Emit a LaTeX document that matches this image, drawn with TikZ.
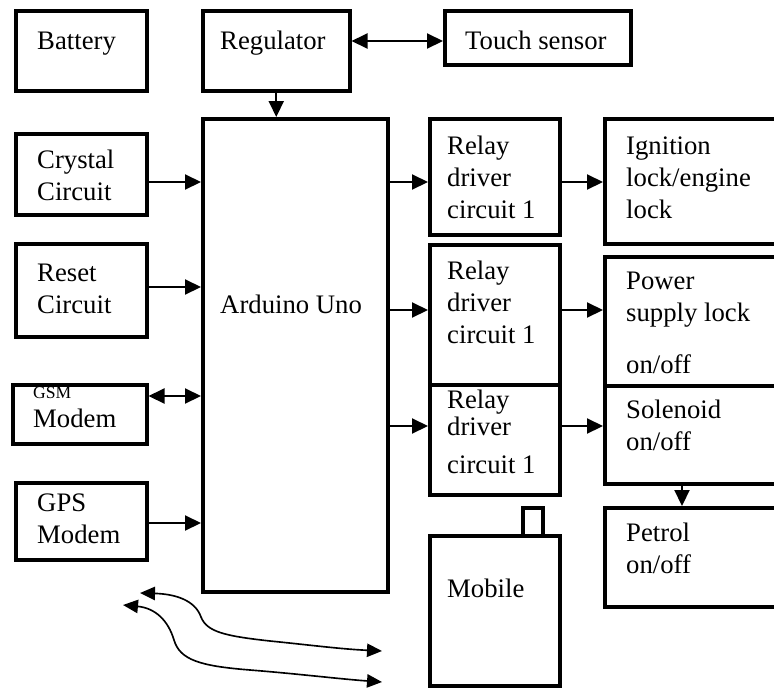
\documentclass[tikz,border=0pt]{standalone}
\usepackage{fontspec}
\setmainfont{Liberation Serif}
\usetikzlibrary{arrows.meta}

\begin{document}
\begin{tikzpicture}[
  x=0.03cm, y=-0.03cm,
  every node/.style={font=\fontsize{22.8}{27}\selectfont},
  box/.style n args={2}{draw, rectangle, line width=3pt, inner sep=0pt,
    anchor=north west, minimum width=#1*0.03cm, minimum height=#2*0.03cm},
  txt/.style={anchor=base west, inner sep=0pt, align=left},
  arr/.style={-{Triangle[length=0.48cm, width=0.45cm]}, line width=1.8pt},
  darr/.style={{Triangle[length=0.48cm, width=0.45cm]}-{Triangle[length=0.48cm, width=0.45cm]},
    line width=1.8pt},
  wave/.style={{Triangle[length=0.45cm, width=0.4cm]}-{Triangle[length=0.45cm, width=0.4cm]},
    line width=1.4pt}
]
  \useasboundingbox (0,0) rectangle (774,691);
  \clip (0,0) rectangle (774,691);

  % Top row
  \node[box={131}{80}] (bat) at (14,9) {};
  \node[txt] (tbat) at (37,49) {Battery};
  \node[box={147}{80}] (reg) at (201,9) {};
  \node[txt] (treg) at (220,49) {Regulator};
  \node[box={186}{54}] (touch) at (443,9) {};
  \node[txt] (ttouch) at (465,49) {Touch sensor};

  % Inputs on the left (text placed at its last baseline)
  \node[box={131}{81}] (crys) at (14,132) {};
  \node[txt] (tcrys) at (37,200) {Crystal\\Circuit};
  \node[box={131}{93}] (reset) at (14,242) {};
  \node[txt] (treset) at (37,313) {Reset\\Circuit};
  \node[box={134}{59}] (gsm) at (11,383) {};
  \node[txt, font=\fontsize{15}{18}\selectfont] (tgsm) at (33,398) {GSM};
  \node[txt] (tmodem) at (33,427) {Modem};
  \node[box={131}{77}] (gps) at (14,481) {};
  \node[txt] (tgps) at (37,543) {GPS\\Modem};

  % Controller
  \node[box={185}{473}] (ard) at (201,117) {};
  \node[txt] (tard) at (220,313) {Arduino Uno};

  % Relay drivers
  \node[box={130}{116}] (rel1) at (428,117) {};
  \node[txt] (trel1) at (447,218) {Relay\\driver\\circuit 1};
  \node[box={130}{140}] (rel2) at (428,243) {};
  \node[txt] (trel2) at (447,343) {Relay\\driver\\circuit 1};
  \node[box={130}{110}] (rel3) at (428,383) {};
  \node[txt] (trel3) at (447,473) {Relay\\[-4pt]driver\\[5pt]circuit 1};

  % Loads (cut at the right edge)
  \node[box={197}{125}] (ign) at (603,117) {};
  \node[txt] (tign) at (626,218) {Ignition\\lock/engine\\lock};
  \node[box={197}{129}] (pow) at (603,255) {};
  \node[txt] (tpow) at (626,373) {Power\\supply lock\\[17pt]on/off};
  \node[box={197}{98}] (sol) at (603,384) {};
  \node[txt] (tsol) at (626,450) {Solenoid\\on/off};
  \node[box={197}{99}] (pet) at (603,506) {};
  \node[txt] (tpet) at (626,573) {Petrol\\on/off};

  % Mobile with antenna
  \node[box={130}{150}] (mob) at (428,534) {};
  \node[box={20}{28}] (ant) at (521,506) {};
  \node[txt] (tmob) at (447,597) {Mobile};

  % Arrows
  \draw[arr] (reg.south) -- (reg.south |- ard.north);
  \draw[darr] (reg.east |- 0,41) -- (touch.west |- 0,41);
  \draw[arr] (crys.east |- 0,182) -- (ard.west |- 0,182);
  \draw[arr] (reset.east |- 0,287) -- (ard.west |- 0,287);
  \draw[darr] (gsm.east |- 0,396) -- (ard.west |- 0,396);
  \draw[arr] (gps.east |- 0,523) -- (ard.west |- 0,523);
  \draw[arr] (ard.east |- 0,182) -- (rel1.west |- 0,182);
  \draw[arr] (rel1.east |- 0,182) -- (ign.west |- 0,182);
  \draw[arr] (ard.east |- 0,310) -- (rel2.west |- 0,310);
  \draw[arr] (rel2.east |- 0,310) -- (pow.west |- 0,310);
  \draw[arr] (ard.east |- 0,426) -- (rel3.west |- 0,426);
  \draw[arr] (rel3.east |- 0,426) -- (sol.west |- 0,426);
  \draw[arr] (sol.south -| 682,0) -- (pet.north -| 682,0);

  % Wireless links
  \coordinate (w1l) at (140,593);
  \coordinate (w1r) at (382,651);
  \coordinate (w2l) at (123,605);
  \coordinate (w2r) at (382,682);
  \draw[wave] (w1l) .. controls (175,594) and (195,600) .. (201,617)
    .. controls (207,632) and (225,636) .. (270,641)
    .. controls (310,645) and (340,649) .. (w1r);
  \draw[wave] (w2l) .. controls (155,608) and (168,620) .. (174,640)
    .. controls (180,660) and (200,666) .. (250,670)
    .. controls (300,674) and (340,679) .. (w2r);
\end{tikzpicture}
\end{document}
